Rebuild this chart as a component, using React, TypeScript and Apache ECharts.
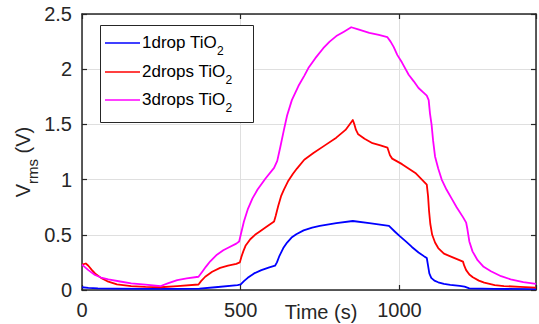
import React, { useEffect, useRef } from "react";
import * as echarts from "echarts";

// Time (s) and V_rms (V)
const time1 = [0, 20, 50, 100, 200, 300, 370, 420, 490, 500, 510, 522, 542, 565, 590, 608, 614, 622, 634, 646, 660, 675, 698, 725, 749, 801, 853, 905, 967, 985, 1000, 1020, 1039, 1060, 1080, 1086, 1090, 1094, 1100, 1110, 1122, 1140, 1160, 1190, 1205, 1220, 1300, 1430];
const vrms1 = [0.025, 0.02, 0.015, 0.012, 0.01, 0.01, 0.012, 0.025, 0.045, 0.05, 0.08, 0.11, 0.15, 0.18, 0.205, 0.22, 0.25, 0.31, 0.38, 0.43, 0.475, 0.505, 0.54, 0.565, 0.58, 0.605, 0.625, 0.605, 0.58, 0.53, 0.49, 0.44, 0.39, 0.34, 0.3, 0.29, 0.22, 0.15, 0.11, 0.085, 0.07, 0.055, 0.047, 0.038, 0.03, 0.015, 0.01, 0.008];

const time2 = [0, 12, 20, 30, 41, 60, 83, 110, 155, 200, 248, 300, 367, 375, 388, 410, 435, 460, 486, 497, 502, 508, 515, 530, 545, 560, 580, 605, 610, 618, 627, 636, 650, 664, 677, 700, 729, 765, 801, 830, 848, 853, 858, 863, 870, 890, 915, 940, 962, 970, 977, 1008, 1050, 1086, 1090, 1093, 1097, 1103, 1112, 1122, 1140, 1164, 1185, 1200, 1204, 1210, 1220, 1231, 1250, 1267, 1300, 1329, 1380, 1430];
const vrms2 = [0.23, 0.24, 0.22, 0.185, 0.15, 0.11, 0.075, 0.05, 0.036, 0.028, 0.025, 0.035, 0.05, 0.08, 0.12, 0.165, 0.2, 0.22, 0.236, 0.25, 0.3, 0.35, 0.4, 0.46, 0.5, 0.53, 0.57, 0.62, 0.67, 0.76, 0.85, 0.91, 0.99, 1.05, 1.1, 1.18, 1.24, 1.31, 1.38, 1.45, 1.52, 1.54, 1.5, 1.45, 1.41, 1.37, 1.33, 1.31, 1.29, 1.22, 1.19, 1.14, 1.06, 0.955, 0.85, 0.72, 0.6, 0.5, 0.43, 0.38, 0.33, 0.3, 0.275, 0.257, 0.22, 0.18, 0.14, 0.115, 0.085, 0.066, 0.045, 0.036, 0.028, 0.022];

const time3 = [0, 20, 41, 60, 83, 120, 155, 200, 248, 270, 300, 330, 367, 380, 390, 404, 425, 445, 465, 486, 495, 500, 510, 522, 537, 553, 578, 605, 615, 625, 636, 646, 661, 682, 700, 713, 735, 760, 780, 801, 825, 848, 870, 905, 935, 962, 972, 982, 993, 1008, 1029, 1045, 1060, 1075, 1086, 1092, 1096, 1101, 1106, 1112, 1122, 1133, 1148, 1164, 1180, 1200, 1210, 1214, 1220, 1230, 1246, 1265, 1288, 1320, 1350, 1390, 1430];
const vrms3 = [0.23, 0.18, 0.136, 0.113, 0.097, 0.077, 0.06, 0.048, 0.036, 0.06, 0.09, 0.105, 0.12, 0.17, 0.21, 0.26, 0.32, 0.36, 0.39, 0.42, 0.44, 0.5, 0.62, 0.73, 0.83, 0.91, 1.01, 1.106, 1.17, 1.3, 1.45, 1.58, 1.72, 1.85, 1.94, 2.01, 2.1, 2.19, 2.25, 2.3, 2.34, 2.38, 2.36, 2.33, 2.31, 2.29, 2.25, 2.2, 2.13, 2.06, 1.95, 1.89, 1.83, 1.79, 1.76, 1.72, 1.6, 1.5, 1.35, 1.21, 1.1, 1.0, 0.91, 0.83, 0.75, 0.66, 0.61, 0.55, 0.44, 0.35, 0.27, 0.21, 0.17, 0.125, 0.097, 0.072, 0.055];

const seriesNames = ["1drop TiO", "2drops TiO", "3drops TiO"];
const seriesColors = ["#0000ff", "#ff0000", "#ff00ff"];
const xTickStep = 500;
const yTickStep = 0.5;

export default function App() {
  const ref = useRef<HTMLDivElement>(null);
  useEffect(() => {
    const chart = echarts.init(ref.current!, null, { renderer: "svg" });
    const zip = (t: number[], v: number[]) => t.map((x, i) => [x, v[i]]);
    const font = "'Liberation Sans', Arial, Helvetica, sans-serif";
    const ink = "#262626";
    const gridColor = "#dfdfdf";
    const axisLine = { show: true, onZero: false, lineStyle: { color: ink, width: 1.5 } };
    const axisTick = { show: true, inside: true, length: 5, lineStyle: { color: ink, width: 1.2 } };
    const datas = [zip(time1, vrms1), zip(time2, vrms2), zip(time3, vrms3)];
    const legendRows = [43, 72, 100];
    chart.setOption({
      animation: false,
      grid: { left: 82, top: 14, width: 460, height: 276 },
      xAxis: [
        {
          type: "value", min: 0, max: 1430, interval: xTickStep, position: "bottom",
          axisLine, axisTick,
          axisLabel: {
            margin: 10, fontSize: 20, color: ink, fontFamily: font,
            formatter: (v: number) => (v % xTickStep === 0 ? String(v) : ""),
          },
          splitLine: { show: true, lineStyle: { color: gridColor, width: 1 } },
        },
        {
          type: "value", min: 0, max: 1430, interval: xTickStep, position: "top",
          axisLine, axisTick, axisLabel: { show: false }, splitLine: { show: false },
        },
      ],
      yAxis: [
        {
          type: "value", min: 0, max: 2.5, interval: yTickStep, position: "left",
          axisLine, axisTick,
          axisLabel: { margin: 10, fontSize: 20, color: ink, fontFamily: font },
          splitLine: { show: true, lineStyle: { color: gridColor, width: 1 } },
        },
        {
          type: "value", min: 0, max: 2.5, interval: yTickStep, position: "right",
          axisLine, axisTick, axisLabel: { show: false }, splitLine: { show: false },
        },
      ],
      series: datas.map((d, i) => ({
        type: "line",
        name: seriesNames[i] + "2",
        data: d,
        xAxisIndex: 0,
        yAxisIndex: 0,
        showSymbol: false,
        symbol: "none",
        lineStyle: { color: seriesColors[i], width: 1.8, join: "round" },
        z: 3 + i,
      })),
      graphic: [
        {
          type: "rect", z: 100,
          shape: { x: 100.5, y: 25.5, width: 153, height: 97 },
          style: { fill: "#fff", stroke: ink, lineWidth: 1 },
        },
        ...legendRows.map((y, i) => ({
          type: "line", z: 101,
          shape: { x1: 105, y1: y, x2: 140, y2: y },
          style: { stroke: seriesColors[i], lineWidth: 1.5 },
        })),
        ...legendRows.map((y, i) => ({
          type: "text", z: 101, x: 142, y: y - 1,
          style: {
            text: `{m|${seriesNames[i]}}{s|2}`,
            align: "left", verticalAlign: "middle",
            rich: {
              m: { fontSize: 17, lineHeight: 30, fontFamily: font, fill: "#000" },
              s: { fontSize: 12, lineHeight: 12, fontFamily: font, fill: "#000", verticalAlign: "bottom" },
            },
          },
        })),
        {
          type: "text", z: 101, x: 23, y: 162, rotation: Math.PI / 2,
          style: {
            text: "{m|V}{s|rms}{m| (V)}",
            align: "center", verticalAlign: "middle",
            rich: {
              m: { fontSize: 20, lineHeight: 33, fontFamily: font, fill: ink },
              s: { fontSize: 15, lineHeight: 15, fontFamily: font, fill: ink, verticalAlign: "bottom" },
            },
          },
        },
        {
          type: "text", z: 101, x: 321, y: 312,
          style: {
            text: "Time (s)", align: "center", verticalAlign: "middle",
            fontSize: 20, fontFamily: font, fill: ink,
          },
        },
      ],
    });
    return () => chart.dispose();
  }, []);
  return (
    <div
      ref={ref}
      style={{ position: "fixed", left: 0, top: 0, width: 539, height: 324, background: "#fff" }}
    />
  );
}
